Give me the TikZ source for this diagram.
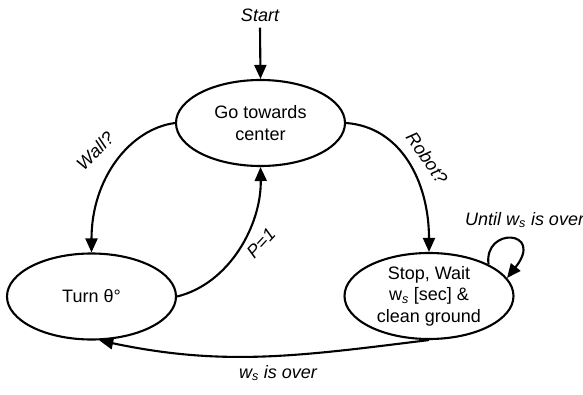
\documentclass[tikz,border=0pt]{standalone}
\usepackage{fontspec}
\setmainfont{Liberation Sans}
\usetikzlibrary{shapes.geometric,arrows.meta}
\newcommand{\wsub}{\textsubscript{\itshape s}}
\begin{document}
\begin{tikzpicture}[x=1pt,y=1pt,
  state/.style={draw,line width=2.1pt,ellipse,inner sep=0pt,minimum width=169pt,minimum height=86pt,align=center,font=\fontsize{18}{21.5}\selectfont},
  edge/.style={line width=2.1pt,-{Triangle[length=14pt,width=12pt]}},
  lab/.style={font=\fontsize{18}{21.5}\selectfont\itshape,inner sep=0pt}]
\useasboundingbox (0,0) rectangle (583,394);
\node[state] (go) at (260.5,271) {Go towards\\center};
\node[state] (turn) at (91.5,97.5) {Turn θ°};
\node[state] (stop) at (429,98) {Stop, Wait\\w\wsub{} [sec] \&\\clean ground};
\node[lab] (start) at (260,379) {Start};
\draw[edge] (start.south) ++(0,-6) coordinate (s0) -- (go.north);
\draw[edge] (go.west) .. controls +(-45,-6) and +(0,74) .. (turn.north);
\draw[edge] (go.east) .. controls +(55,-4) and +(0,70) .. (stop.north);
\draw[edge] (turn.east) .. controls +(53,13) and +(1,-57) .. (go.south);
\draw[edge] (stop.south) to[out=187,in=-12] (turn.-80);
\draw[edge] (stop.28) .. controls +(-5,38) and +(38,48) .. (stop.13);
\node[lab,rotate=45] (wall) at (95,243) {Wall?};
\node[lab,rotate=-55] (robot) at (427,236) {Robot?};
\node[lab,rotate=47] (p1) at (261,151) {P=1};
\node[lab] (over) at (278,21) {w\wsub{} is over};
\node[lab,anchor=west] (until) at (465,174) {Until w\wsub{} is over};
\end{tikzpicture}
\end{document}
